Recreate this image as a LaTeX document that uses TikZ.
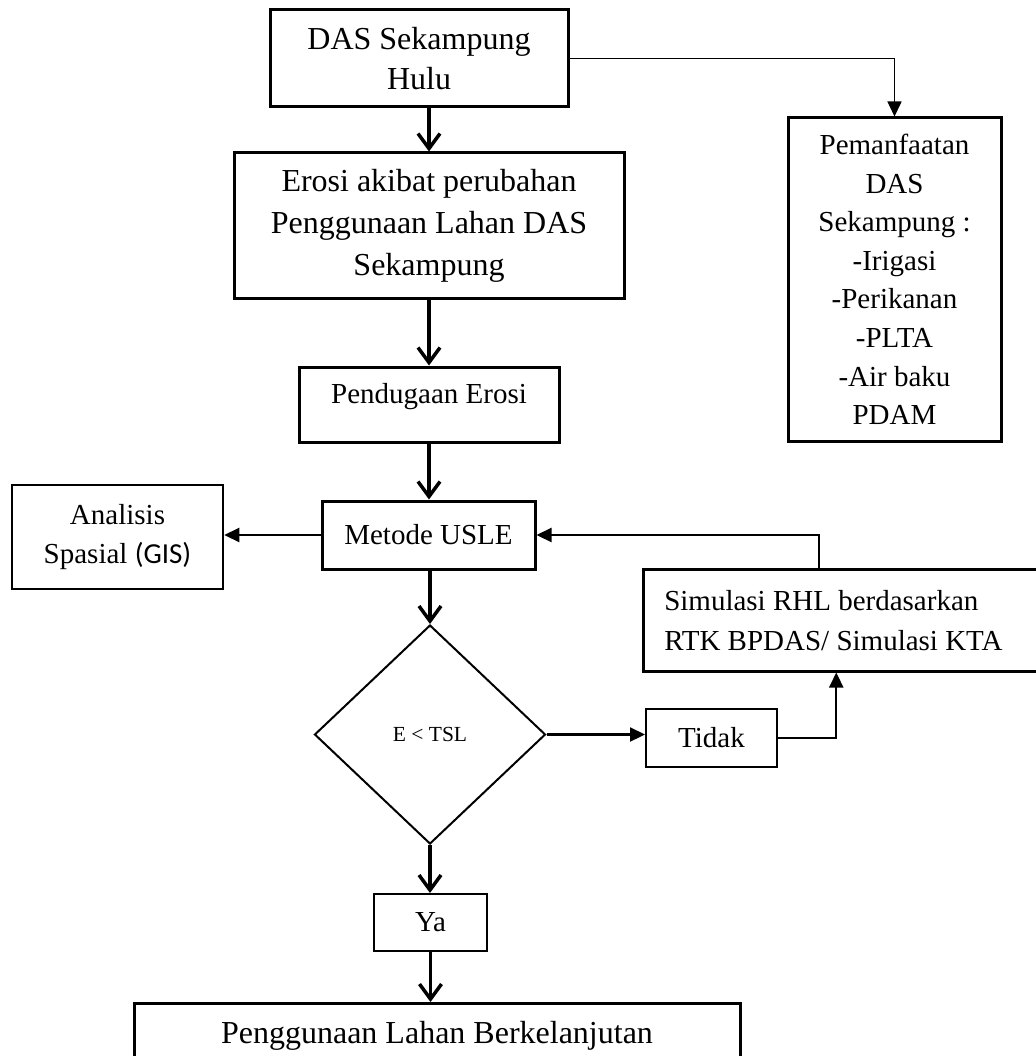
\documentclass[tikz,border=0pt]{standalone}
\usepackage{fontspec}
\setmainfont{Liberation Serif}
\newfontfamily\gisfont{Carlito}
\usetikzlibrary{arrows.meta,shapes.geometric,calc}
\tikzstyle{box} = [draw, line width=3pt, align=center, inner sep=0pt, font=\fontsize{29}{39}\selectfont]
\tikzstyle{bigbox} = [box, font=\fontsize{32}{40}\selectfont]
\tikzstyle{thinbox} = [box, line width=2pt]
\tikzstyle{decision} = [diamond, draw, line width=2pt, inner sep=0pt, font=\fontsize{21.5}{26}\selectfont]
\tikzstyle{arrow} = [line width=3.5pt, -{Straight Barb[length=15pt,width=22pt]}]
\tikzstyle{thinarrow} = [line width=2.2pt, -{Triangle[length=15pt,width=14pt]}]

\begin{document}
\begin{tikzpicture}[x=1pt,y=-1pt]
\useasboundingbox (0,0) rectangle (1035,1056);
\draw (419,58.5) node (hulu) [bigbox, minimum width=298pt, minimum height=97pt] {DAS Sekampung\\Hulu};
\draw (429,225.5) node (erosi) [bigbox, minimum width=390pt, minimum height=145pt, font=\fontsize{32}{42}\selectfont] {Erosi akibat perubahan\\Penggunaan Lahan DAS\\Sekampung};
\draw (429,404.5) node (duga) [box, minimum width=260pt, minimum height=75pt, text depth=22pt] {Pendugaan Erosi};
\draw (428.5,535) node (usle) [box, minimum width=213pt, minimum height=68pt] {Metode USLE};
\draw (117.5,537) node (gis) [box, line width=2.5pt, minimum width=211pt, minimum height=104pt] {Analisis\\Spasial {\gisfont(GIS)}};
\draw (894.5,279.5) node (manfaat) [box, minimum width=213pt, minimum height=323pt, font=\fontsize{29}{38.6}\selectfont] {Pemanfaatan\\DAS\\Sekampung :\\-Irigasi\\-Perikanan\\-PLTA\\-Air baku\\PDAM};
\draw (642,568) node (simulasi) [box, anchor=north west, line width=2.5pt, text width=360pt, align=flush left, inner xsep=21pt, minimum height=102pt, font=\fontsize{29}{40}\selectfont] {Simulasi RHL berdasarkan\\RTK BPDAS/ Simulasi KTA};
%
\draw (430,734.5) node (cek) [decision, minimum width=231pt, minimum height=219pt] {E < TSL};
\draw (711.5,738) node (tidak) [thinbox, minimum width=131pt, minimum height=58pt] {Tidak};
\draw (430.5,922.5) node (ya) [thinbox, minimum width=113pt, minimum height=57pt] {Ya};
\draw (437,1002) node (lestari) [bigbox, anchor=north, minimum width=606pt, inner ysep=18pt, text height=22pt, text depth=7pt] {Penggunaan Lahan Berkelanjutan};
%
\draw [arrow] (hulu.south -| erosi.north) -- (erosi.north);
\draw [arrow] (erosi.south) -- (duga.north);
\draw [arrow] (duga.south) -- (duga.south |- usle.north);
\draw [arrow] (usle.south -| cek.north) -- (cek.north);
\draw [arrow] (cek.south) -- (cek.south |- ya.north);
\draw [arrow] (ya.south) -- (ya.south |- lestari.north);
\draw [thinarrow] (usle.west) -- (usle.west -| gis.east);
\draw [thinarrow, line width=1.6pt] (hulu.east) -| (manfaat.north);
\draw [thinarrow] (cek.east) -- (cek.east -| tidak.west);
\draw [thinarrow] (tidak.east) -| ([xshift=-8pt]simulasi.south);
\draw [thinarrow] ([xshift=-25pt]simulasi.north) |- (usle.east);
\end{tikzpicture}
\end{document}
